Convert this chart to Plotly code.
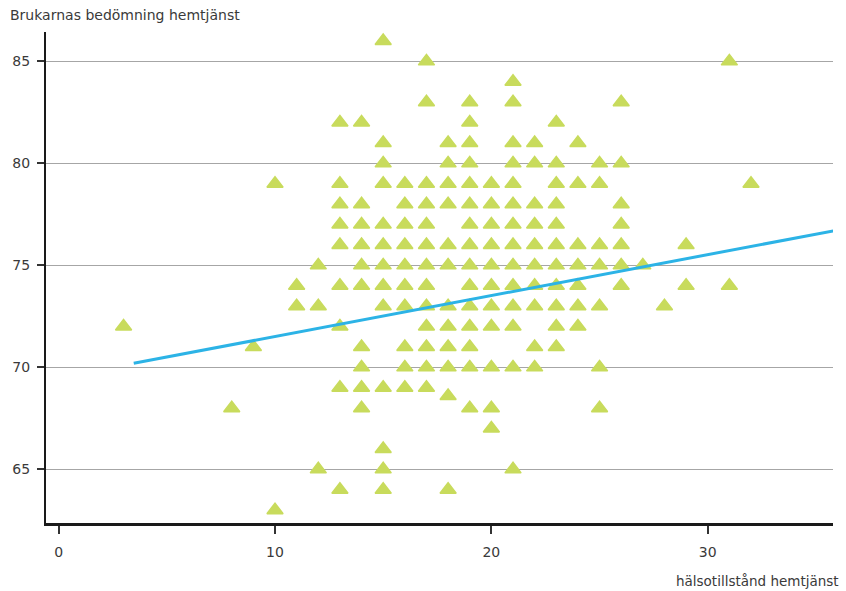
import plotly.graph_objects as go

# ---- data: x = hälsotillstånd, list of y values per x column ----
col_x = [3, 8, 9, 10, 11, 12, 13, 14, 15, 16, 17, 18, 19, 20, 21, 22, 23, 24, 25, 26, 27, 28, 29, 31, 32]
col_y = [
    [72],
    [68],
    [71],
    [79, 63],
    [74, 73],
    [75, 73, 65],
    [82, 79, 78, 77, 76, 74, 72, 69, 64],
    [82, 78, 77, 76, 75, 74, 71, 70, 69, 68],
    [86, 81, 80, 79, 77, 76, 75, 74, 73, 69, 66, 65, 64],
    [79, 78, 77, 76, 75, 74, 73, 71, 70, 69],
    [85, 83, 79, 78, 77, 76, 75, 74, 73, 72, 71, 70, 69],
    [81, 80, 79, 78, 76, 75, 73, 72, 71, 70, 68.6, 64],
    [83, 82, 81, 80, 79, 78, 77, 76, 75, 74, 73, 72, 71, 70, 68],
    [79, 78, 77, 76, 75, 74, 73, 72, 70, 68, 67],
    [84, 83, 81, 80, 79, 78, 77, 76, 75, 74, 73, 72, 70, 65],
    [81, 80, 78, 77, 76, 75, 74, 73, 71, 70],
    [82, 80, 79, 78, 77, 76, 75, 74, 73, 72, 71],
    [81, 79, 76, 75, 74, 73, 72],
    [80, 79, 76, 75, 73, 70, 68],
    [83, 80, 78, 77, 76, 75, 74],
    [75],
    [73],
    [76, 74],
    [85, 74],
    [79],
]

# regression line end points
line_x = [3.47, 35.8]
line_y = [70.2, 76.69]

x_ticks = [0, 10, 20, 30]
y_ticks = [65, 70, 75, 80, 85]

x_title = "hälsotillstånd hemtjänst"
y_title = "Brukarnas bedömning hemtjänst"

pts_x = [x for x, ys in zip(col_x, col_y) for _ in ys]
pts_y = [y for ys in col_y for y in ys]

FONT = "DejaVu Sans"
TXT = "#3a3a3a"

fig = go.Figure()
fig.add_trace(go.Scatter(
    x=pts_x, y=pts_y, mode="markers",
    marker=dict(symbol="triangle-up", size=14, color="#C8DB5C",
                line=dict(width=1.5, color="#C8DB5C")),
    hoverinfo="x+y", showlegend=False, cliponaxis=False,
))
fig.add_trace(go.Scatter(
    x=line_x, y=line_y, mode="lines",
    line=dict(color="#2CB3E6", width=3),
    showlegend=False, hoverinfo="skip",
))

fig.update_layout(
    width=846, height=591,
    margin=dict(l=43, r=13, t=32, b=68),
    paper_bgcolor="white", plot_bgcolor="white",
    font=dict(family=FONT, size=14, color=TXT),
    showlegend=False,
    xaxis=dict(
        range=[-0.585, 35.79], tickvals=x_ticks, ticktext=[str(v) for v in x_ticks],
        showgrid=False, zeroline=False,
        showline=True, linecolor="#1a1a1a", linewidth=2.5,
        ticks="outside", ticklen=8, tickwidth=1.5, tickcolor="#333333",
        ticklabelstandoff=6,
        tickfont=dict(family=FONT, size=14, color=TXT),
    ),
    yaxis=dict(
        range=[62.37, 86.44], tickvals=y_ticks, ticktext=[str(v) for v in y_ticks],
        showgrid=True, gridcolor="#a6a6a6", gridwidth=1, zeroline=False,
        showline=True, linecolor="#1a1a1a", linewidth=2,
        ticks="outside", ticklen=7, tickwidth=1.5, tickcolor="#333333",
        ticklabelstandoff=4,
        tickfont=dict(family=FONT, size=14, color=TXT),
    ),
    annotations=[
        dict(text=y_title, xref="paper", yref="paper", x=-0.0481, y=1.0346,
             xanchor="left", yanchor="middle", showarrow=False,
             font=dict(family=FONT, size=14, color=TXT)),
        dict(text=x_title, xref="paper", yref="paper", x=1.0101, y=-0.118,
             xanchor="right", yanchor="middle", showarrow=False,
             font=dict(family=FONT, size=13.5, color=TXT)),
    ],
)

fig.write_html("out.html")
